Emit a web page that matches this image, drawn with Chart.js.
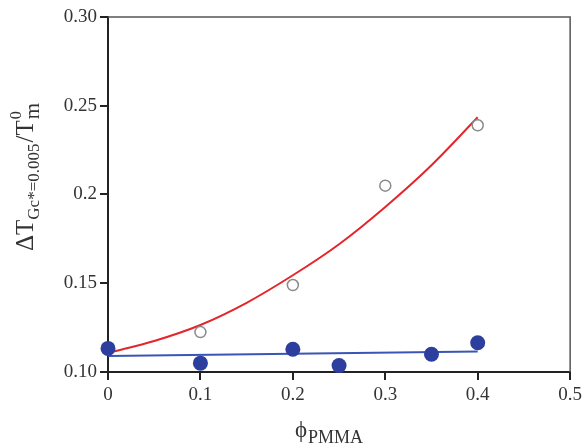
<!DOCTYPE html>
<html><head><meta charset="utf-8">
<script src="https://cdn.jsdelivr.net/npm/chart.js@4.4.0/dist/chart.umd.min.js"></script>
<style>html,body{margin:0;background:#fff}#wrap{width:586px;height:446px}</style>
</head><body><div id="wrap"><canvas id="c"></canvas></div>
<script>
// values
const openX = [0.1, 0.2, 0.3, 0.4];
const openY = [0.1225, 0.149, 0.205, 0.239];
const fillX = [0, 0.1, 0.2, 0.25, 0.35, 0.4];
const fillY = [0.1133, 0.105, 0.1128, 0.1036, 0.110, 0.1165];
const redX = [0.002, 0.05, 0.1, 0.15, 0.2, 0.25, 0.3, 0.35, 0.4];
const redY = [0.111, 0.1175, 0.1265, 0.139, 0.1545, 0.172, 0.193, 0.2165, 0.2435];
const blueX = [0, 0.4];
const blueY = [0.109, 0.1115];
const xTickVals = [0, 0.1, 0.2, 0.3, 0.4, 0.5];
const xTickLabels = ['0', '0.1', '0.2', '0.3', '0.4', '0.5'];
const yTickVals = [0.1, 0.15, 0.2, 0.25, 0.3];
const yTickLabels = ['0.10', '0.15', '0.2', '0.25', '0.30'];

const pts = (xs, ys) => xs.map((x, i) => ({x, y: ys[i]}));
const SERIF = "'Liberation Serif', 'DejaVu Serif', serif";
const INK = '#222';

// top/right frame + axis titles with sub/superscripts
const extras = {
  id: 'extras',
  beforeDatasetsDraw(chart) {
    const {ctx, chartArea: a} = chart;
    ctx.save();
    ctx.strokeStyle = '#555'; ctx.lineWidth = 1.5;
    ctx.beginPath(); ctx.moveTo(a.left, a.top); ctx.lineTo(a.right, a.top); ctx.lineTo(a.right, a.bottom); ctx.stroke();
    ctx.restore();
  },
  afterDraw(chart) {
    const {ctx} = chart;
    const run = (parts, x0, y0) => {
      let x = x0;
      parts.forEach(p => {
        ctx.font = p.size + 'px ' + SERIF;
        ctx.fillText(p.t, x, y0 + (p.dy || 0));
        if (!p.stay) x += ctx.measureText(p.t).width + (p.gap || 0);
      });
    };
    const width = parts => parts.reduce((w, p) => { ctx.font = p.size + 'px ' + SERIF; return p.stay ? w : w + ctx.measureText(p.t).width + (p.gap || 0); }, 0);
    ctx.save();
    ctx.fillStyle = '#333'; ctx.textBaseline = 'alphabetic'; ctx.textAlign = 'left';
    // y title
    const yt = [
      {t: '\u0394T', size: 25}, {t: 'Gc*=0.005', size: 17, dy: 6, gap: 1},
      {t: '/T', size: 25, gap: 1}, {t: '0', size: 16, dy: -12, stay: true}, {t: 'm', size: 21, dy: 6}
    ];
    ctx.translate(33, 177); ctx.rotate(-Math.PI / 2);
    run(yt, -width(yt) / 2, 0);
    ctx.restore();
    ctx.save();
    ctx.fillStyle = '#333'; ctx.textBaseline = 'alphabetic';
    const xt = [{t: '\u03d5', size: 23, gap: 1}, {t: 'PMMA', size: 18, dy: 6}];
    run(xt, 329 - width(xt) / 2, 437);
    ctx.restore();
  }
};

new Chart(document.getElementById('c'), {
  type: 'scatter',
  data: {datasets: [
    {data: pts(fillX, fillY), pointRadius: 7.5, pointBackgroundColor: '#2c3e9e', pointBorderWidth: 0, clip: false},
    {data: pts(openX, openY), pointRadius: 5.5, pointBackgroundColor: '#fff', pointBorderColor: '#8a8a8a', pointBorderWidth: 1.5, clip: false},
    {data: pts(redX, redY), showLine: true, pointRadius: 0, borderColor: '#e3262b', borderWidth: 2, cubicInterpolationMode: 'monotone', clip: false},
    {data: pts(blueX, blueY), showLine: true, pointRadius: 0, borderColor: '#3a55b5', borderWidth: 2, clip: false}
  ]},
  options: {
    responsive: true, maintainAspectRatio: false, animation: false,
    layout: {padding: {top: 17, right: 14, left: 0, bottom: 0}},
    plugins: {legend: {display: false}, tooltip: {enabled: false}},
    scales: {
      x: {
        type: 'linear', min: 0, max: 0.5,
        afterBuildTicks: s => { s.ticks = xTickVals.map(v => ({value: v})); },
        afterFit: s => { s.height = 74; },
        ticks: {callback: (v, i) => xTickLabels[i], color: '#333', font: {family: SERIF, size: 19}, padding: 4, maxRotation: 0},
        grid: {drawOnChartArea: false, drawTicks: true, tickLength: 8, color: INK, lineWidth: 2},
        border: {color: INK, width: 2}
      },
      y: {
        type: 'linear', min: 0.1, max: 0.3,
        afterBuildTicks: s => { s.ticks = yTickVals.map(v => ({value: v})); },
        afterFit: s => { s.width = 108; },
        ticks: {callback: (v, i) => yTickLabels[i], color: '#333', font: {family: SERIF, size: 19}, padding: 3},
        grid: {drawOnChartArea: false, drawTicks: true, tickLength: 8, color: INK, lineWidth: 2},
        border: {color: INK, width: 2}
      }
    }
  },
  plugins: [extras]
});
</script></body></html>
